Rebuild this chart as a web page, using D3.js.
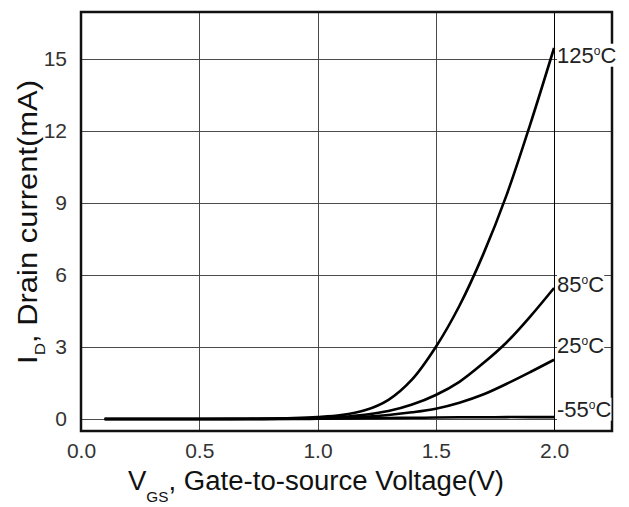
<!DOCTYPE html>
<meta charset="utf-8">
<style>
  body {
    margin: 0;
    background: #fff;
    font-family: "Liberation Sans", Arial, sans-serif;
  }
</style>
<body>
  <script src="https://d3js.org/d3.v7.min.js"></script>
  <div id="chart"></div>
  <script>
    // values
    const vgs = [0.1, 0.5, 0.7, 0.9, 1.0, 1.1, 1.2, 1.3, 1.4, 1.5, 1.6, 1.7, 1.8, 1.9, 2.0];
    const id125 = [0, 0, 0.01, 0.04, 0.08, 0.16, 0.36, 0.8, 1.65, 3.0, 4.72, 6.85, 9.35, 12.3, 15.46];
    const id85 = [0, 0, 0, 0.02, 0.04, 0.09, 0.18, 0.33, 0.6, 1.0, 1.55, 2.32, 3.2, 4.28, 5.46];
    const id25 = [0, 0, 0, 0.01, 0.02, 0.04, 0.09, 0.17, 0.28, 0.43, 0.68, 1.02, 1.47, 1.96, 2.47];
    const idM55 = [0, 0, 0, 0, 0.01, 0.02, 0.03, 0.04, 0.05, 0.06, 0.07, 0.07, 0.08, 0.08, 0.08];
    const temps = ["125", "85", "25", "-55"];
    const labelAt = [15.18, 5.64, 3.07, 0.43];
    const xTicks = [0, 0.5, 1.0, 1.5, 2.0];
    const yTicks = [0, 3, 6, 9, 12, 15];

    const width = 629;
    const height = 507;
    const pLeft = 81, pRight = 612, pTop = 12, pBottom = 431;

    const svg = d3.select("#chart")
      .append("svg")
      .attr("width", width)
      .attr("height", height);

    const x = d3.scaleLinear().domain([0, 2.245]).range([pLeft, pRight]);
    const y = d3.scaleLinear().domain([-0.5, 16.96]).range([pBottom, pTop]);

    // gridlines via axes
    const yAxis = svg.append("g")
      .attr("transform", `translate(${pLeft},0)`)
      .call(d3.axisLeft(y).tickValues(yTicks)
        .tickSizeInner(-(pRight - pLeft)).tickSizeOuter(0).tickPadding(14));
    const xAxis = svg.append("g")
      .attr("transform", `translate(0,${pBottom})`)
      .call(d3.axisBottom(x).tickValues(xTicks).tickFormat(d3.format(".1f"))
        .tickSizeInner(-(pBottom - pTop)).tickSizeOuter(0).tickPadding(12));

    [xAxis, yAxis].forEach(a => {
      a.select(".domain").remove();
      a.selectAll(".tick line")
        .attr("stroke", "#4a4a4a")
        .attr("stroke-width", 1)
        .attr("shape-rendering", "crispEdges");
      a.selectAll(".tick text")
        .attr("fill", "#333")
        .style("font-size", "21px")
        .style("font-family", "'Liberation Sans', Arial, sans-serif");
    });
    xAxis.selectAll(".tick").filter(d => d === 2.0).select("line")
      .attr("stroke", "#000").attr("stroke-width", 1.5);

    // frame
    svg.append("rect")
      .attr("x", pLeft).attr("y", pTop)
      .attr("width", pRight - pLeft).attr("height", pBottom - pTop)
      .attr("fill", "none")
      .attr("stroke", "#111")
      .attr("stroke-width", 2.5);

    // curves
    const series = [id125, id85, id25, idM55];
    const line = d3.line()
      .x((d, i) => x(vgs[i]))
      .y(d => y(d))
      .curve(d3.curveCatmullRom.alpha(0.5));

    svg.append("g")
      .selectAll("path")
      .data(series)
      .join("path")
      .attr("d", d => line(d))
      .attr("fill", "none")
      .attr("stroke", "#000")
      .attr("stroke-width", 2.6);

    // temperature labels
    const labels = svg.append("g");
    temps.forEach((t, i) => {
      const g = labels.append("g");
      const txt = g.append("text")
        .attr("x", x(2.0) + 3)
        .attr("y", y(labelAt[i]) + 8)
        .attr("fill", "#222")
        .style("font-size", "22px");
      txt.append("tspan").text(t);
      txt.append("tspan").attr("dy", -8).style("font-size", "12px").text("o");
      txt.append("tspan").attr("dy", 8).text("C");
      const bb = txt.node().getBBox();
      g.insert("rect", "text")
        .attr("x", bb.x).attr("y", bb.y + 1)
        .attr("width", bb.width).attr("height", bb.height - 2)
        .attr("fill", "#fff");
    });

    // axis titles
    const xt = svg.append("text")
      .attr("x", 316)
      .attr("y", 490)
      .attr("text-anchor", "middle")
      .attr("fill", "#111")
      .attr("textLength", 376)
      .attr("lengthAdjust", "spacingAndGlyphs")
      .style("font-size", "27px");
    xt.append("tspan").text("V");
    xt.append("tspan").attr("dy", 12).style("font-size", "15px").text("GS");
    xt.append("tspan").attr("dy", -12).text(", Gate-to-source Voltage(V)");

    const yt = svg.append("text")
      .attr("transform", "translate(37,222) rotate(-90)")
      .attr("text-anchor", "middle")
      .attr("fill", "#111")
      .attr("textLength", 284)
      .attr("lengthAdjust", "spacingAndGlyphs")
      .style("font-size", "27px");
    yt.append("tspan").text("I");
    yt.append("tspan").attr("dy", 8).style("font-size", "15px").text("D");
    yt.append("tspan").attr("dy", -8).text(", Drain current(mA)");
  </script>
</body>
